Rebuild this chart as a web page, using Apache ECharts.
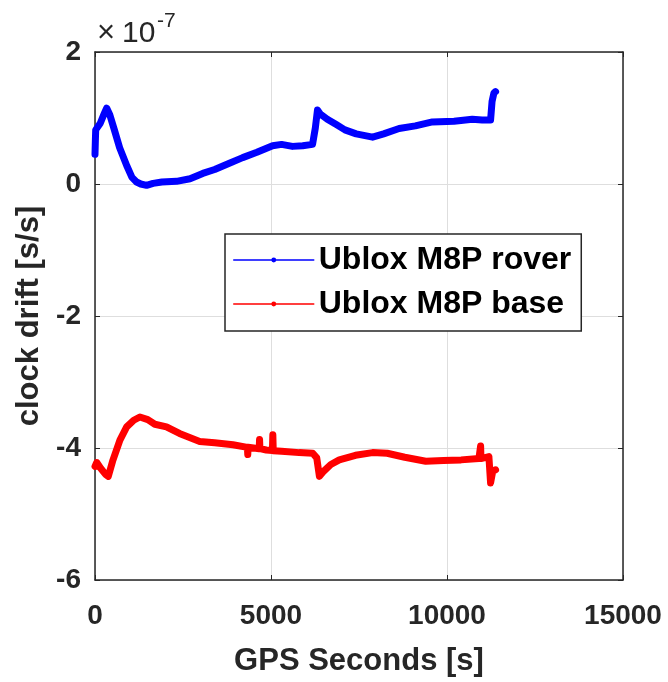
<!DOCTYPE html>
<html>
<head>
<meta charset="utf-8">
<script src="https://cdn.jsdelivr.net/npm/echarts@6/dist/echarts.min.js"></script>
<style>
html,body{margin:0;padding:0;background:#fff;}
#chart{width:668px;height:682px;}
</style>
</head>
<body>
<div id="chart"></div>
<script>
// GPS seconds and clock drift (in units of 1e-7 s/s)
var roverX = [0, 10, 20, 60, 150, 250, 331, 420, 550, 700, 900, 1050, 1180, 1300, 1465, 1650, 1900, 2315, 2700, 3060, 3400, 3800, 4195, 4600, 5045, 5300, 5610, 5900, 6180, 6260, 6320, 6400, 6600, 6855, 7100, 7420, 7885, 8200, 8640, 9100, 9585, 10200, 10718, 11000, 11238, 11280, 11333, 11380];
var roverY = [0.45, 0.65, 0.82, 0.85, 0.92, 1.05, 1.15, 1.05, 0.82, 0.55, 0.28, 0.10, 0.03, 0.00, -0.02, 0.01, 0.03, 0.04, 0.08, 0.16, 0.22, 0.31, 0.40, 0.48, 0.58, 0.60, 0.57, 0.58, 0.60, 0.85, 1.12, 1.06, 0.98, 0.90, 0.82, 0.76, 0.71, 0.76, 0.84, 0.88, 0.94, 0.95, 0.98, 0.97, 0.97, 1.25, 1.38, 1.40];

var baseX = [0, 50, 150, 300, 378, 500, 708, 900, 1100, 1275, 1500, 1700, 2030, 2400, 2975, 3400, 3920, 4330, 4340, 4350, 4665, 4675, 4685, 4865, 5040, 5052, 5064, 5300, 5800, 6185, 6300, 6375, 6500, 6700, 6940, 7400, 7885, 8300, 8800, 9397, 9900, 10400, 10907, 10945, 10955, 10965, 11190, 11238, 11300, 11380];
var baseY = [-4.28, -4.22, -4.30, -4.40, -4.43, -4.20, -3.88, -3.68, -3.58, -3.53, -3.57, -3.64, -3.68, -3.78, -3.90, -3.92, -3.95, -3.99, -4.10, -3.99, -4.01, -3.87, -4.01, -4.03, -4.04, -3.80, -4.04, -4.05, -4.07, -4.08, -4.15, -4.43, -4.35, -4.25, -4.18, -4.11, -4.07, -4.08, -4.14, -4.20, -4.19, -4.18, -4.16, -4.16, -3.97, -4.16, -4.13, -4.53, -4.35, -4.33];

var xTicks = [0, 5000, 10000, 15000];
var yTicks = [-6, -4, -2, 0, 2];
var seriesNames = ['Ublox M8P rover', 'Ublox M8P base'];

function pairs(xs, ys){ return xs.map(function(x,i){ return [x, ys[i]]; }); }

var chart = echarts.init(document.getElementById('chart'));
var textCol = '#262626';
var font = 'Liberation Sans, Arial, Helvetica, sans-serif';

function mkX(pos, show){
  return {
    type: 'value', position: pos, min: xTicks[0], max: xTicks[xTicks.length-1], interval: 5000,
    axisLine: {show: true, onZero: false, lineStyle: {color: textCol, width: 1.5}},
    axisTick: {show: true, inside: true, length: 5, lineStyle: {color: textCol, width: 1}},
    splitLine: {show: show, lineStyle: {color: '#dedede', width: 1}},
    axisLabel: {show: show, color: textCol, fontSize: 28, fontWeight: 'bold', fontFamily: font, margin: 22,
      formatter: function(v){ return String(v); }},
    name: show ? 'GPS Seconds [s]' : '', nameLocation: 'middle', nameGap: 66,
    nameTextStyle: {color: textCol, fontSize: 31, fontWeight: 'bold', fontFamily: font}
  };
}
function mkY(pos, show){
  return {
    type: 'value', position: pos, min: yTicks[0], max: yTicks[yTicks.length-1], interval: 2,
    axisLine: {show: true, onZero: false, lineStyle: {color: textCol, width: 1.5}},
    axisTick: {show: true, inside: true, length: 5, lineStyle: {color: textCol, width: 1}},
    splitLine: {show: show, lineStyle: {color: '#dedede', width: 1}},
    axisLabel: {show: show, color: textCol, fontSize: 28, fontWeight: 'bold', fontFamily: font, margin: 14},
    name: show ? 'clock drift [s/s]' : '', nameLocation: 'middle', nameGap: 50,
    nameTextStyle: {color: textCol, fontSize: 31, fontWeight: 'bold', fontFamily: font}
  };
}

chart.setOption({
  animation: false,
  backgroundColor: '#ffffff',
  grid: {left: 95, right: 45, top: 52, bottom: 101, containLabel: false},
  xAxis: [mkX('bottom', true), mkX('top', false)],
  yAxis: [mkY('left', true), mkY('right', false)],
  legend: {
    orient: 'vertical', left: 225, top: 234,
    padding: [10, 10, 11, 8], itemGap: 12,
    itemWidth: 80, itemHeight: 6,
    backgroundColor: '#ffffff', borderColor: textCol, borderWidth: 1.5,
    textStyle: {color: '#000000', fontSize: 32, fontWeight: 'bold', fontFamily: font, padding: [0,0,0,0]},
    lineStyle: {width: 1.5},
    data: seriesNames
  },
  graphic: [
    {type: 'text', left: 97, top: 18, style: {text: '×', fill: textCol, font: '31px ' + font}},
    {type: 'text', left: 122, top: 19, style: {text: '10', fill: textCol, font: '30px ' + font}},
    {type: 'text', left: 157, top: 11, style: {text: '-7', fill: textCol, font: '21px ' + font}}
  ],
  series: [
    {name: seriesNames[0], type: 'line', xAxisIndex: 0, yAxisIndex: 0, data: pairs(roverX, roverY),
     symbol: 'circle', symbolSize: 6, showSymbol: false,
     lineStyle: {color: '#0000ff', width: 7, join: 'round', cap: 'round'}, itemStyle: {color: '#0000ff'}},
    {name: seriesNames[1], type: 'line', xAxisIndex: 0, yAxisIndex: 0, data: pairs(baseX, baseY),
     symbol: 'circle', symbolSize: 6, showSymbol: false,
     lineStyle: {color: '#ff0000', width: 7, join: 'round', cap: 'round'}, itemStyle: {color: '#ff0000'}}
  ]
});
</script>
</body>
</html>
